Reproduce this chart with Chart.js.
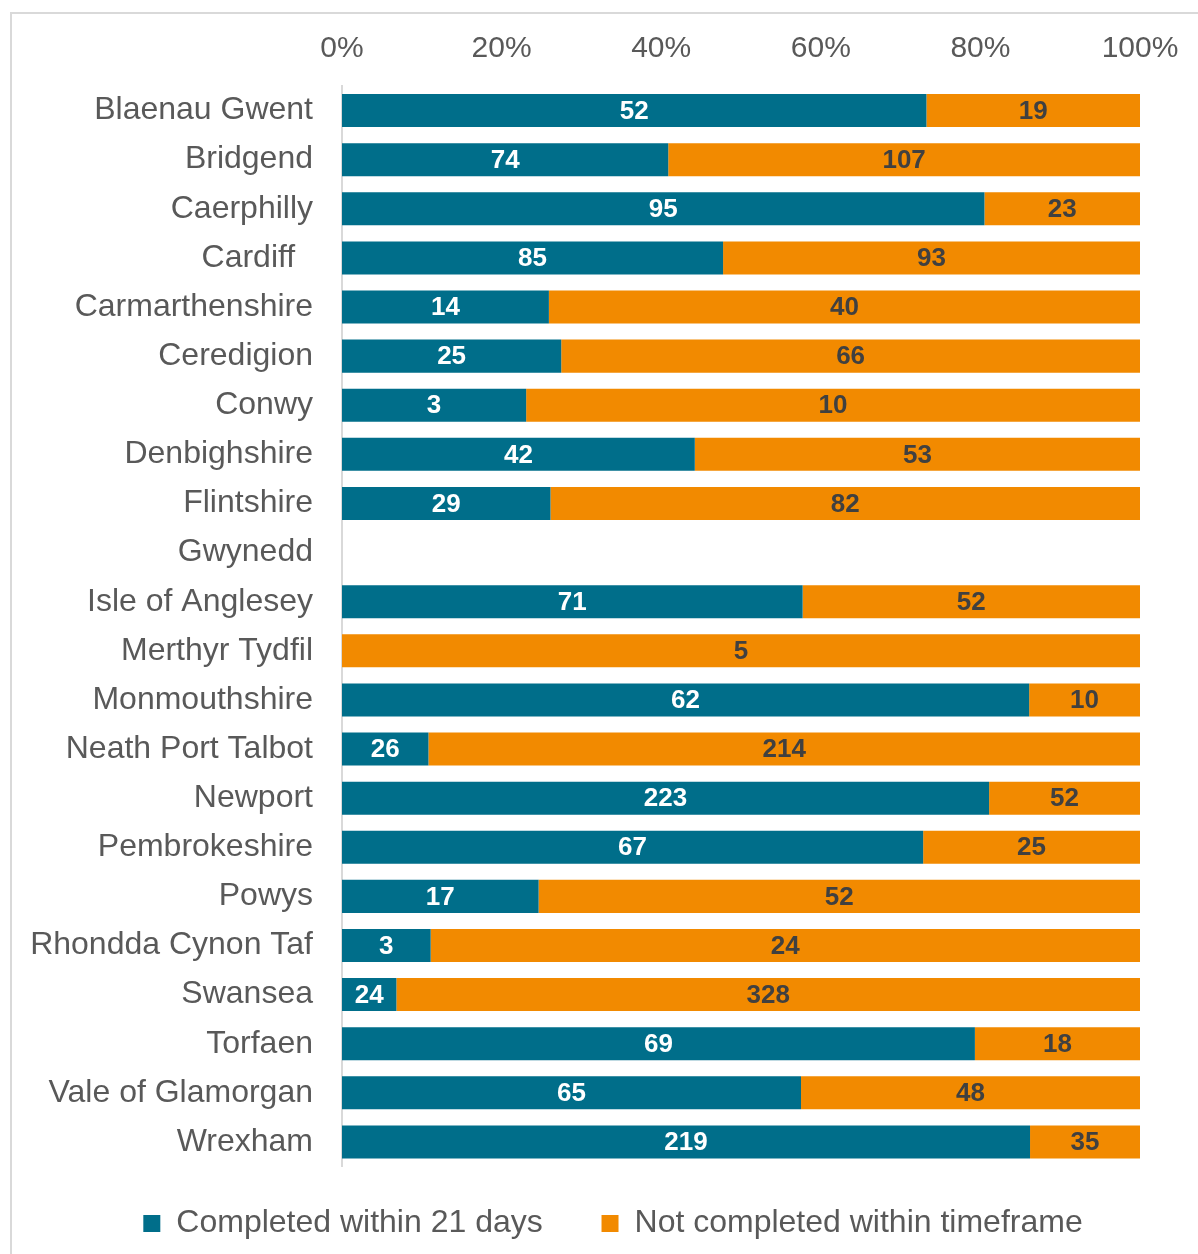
<!DOCTYPE html>
<html>
<head>
<meta charset="utf-8">
<script src="https://cdn.jsdelivr.net/npm/chart.js@4/dist/chart.umd.min.js"></script>
<style>
  html, body { margin: 0; padding: 0; background: #fff; }
  .frame {
    position: absolute; left: 10px; top: 12px;
    width: 1400px; height: 1400px;
    border: 2px solid #d9d9d9; box-sizing: border-box;
  }
  .wrap { position: absolute; left: 0; top: 0; width: 1198px; height: 1254px; }
</style>
</head>
<body>
<div class="frame"></div>
<div class="wrap"><canvas id="chart" width="1198" height="1254"></canvas></div>
<script>
// Local authorities
const authorities = [
  'Blaenau Gwent', 'Bridgend', 'Caerphilly', 'Cardiff  ', 'Carmarthenshire',
  'Ceredigion', 'Conwy', 'Denbighshire', 'Flintshire', 'Gwynedd',
  'Isle of Anglesey', 'Merthyr Tydfil', 'Monmouthshire', 'Neath Port Talbot',
  'Newport', 'Pembrokeshire', 'Powys', 'Rhondda Cynon Taf', 'Swansea',
  'Torfaen', 'Vale of Glamorgan', 'Wrexham'
];

// counts per authority (null = no data)
const completed = [52, 74, 95, 85, 14, 25, 3, 42, 29, null, 71, 0, 62, 26, 223, 67, 17, 3, 24, 69, 65, 219];
const notCompleted = [19, 107, 23, 93, 40, 66, 10, 53, 82, null, 52, 5, 10, 214, 52, 25, 52, 24, 328, 18, 48, 35];

const percentTicks = [0, 20, 40, 60, 80, 100];

const blue = '#006E8A';
const orange = '#F28A00';
const grey = '#595959';
const fontFamily = '"Liberation Sans", Arial, sans-serif';

function share(a, b, i) {
  if (a[i] == null || b[i] == null) return null;
  const total = a[i] + b[i];
  return total ? (a[i] / total) * 100 : 0;
}

const completedPct = completed.map((v, i) => share(completed, notCompleted, i));
const notCompletedPct = notCompleted.map((v, i) => share(notCompleted, completed, i));
const rawCounts = [completed, notCompleted];
const labelColours = ['#ffffff', '#404040'];

// writes the raw counts in the middle of each bar segment
const countLabels = {
  id: 'countLabels',
  afterDatasetsDraw(chart) {
    const ctx = chart.ctx;
    ctx.save();
    ctx.font = 'bold 26px ' + fontFamily;
    ctx.textAlign = 'center';
    ctx.textBaseline = 'middle';
    chart.data.datasets.forEach((ds, d) => {
      const meta = chart.getDatasetMeta(d);
      meta.data.forEach((bar, i) => {
        const n = rawCounts[d][i];
        if (!n) return;
        const { x, y, base } = bar.getProps(['x', 'y', 'base'], true);
        ctx.fillStyle = labelColours[d];
        ctx.fillText(String(n), (x + base) / 2, y + 1);
      });
    });
    ctx.restore();
  }
};

// legend band: fixed height under the plot, nudged right
const legendBox = {
  id: 'legendBox',
  beforeLayout(chart) {
    const lg = chart.legend;
    if (lg && !lg._fixed) {
      const fit = lg.fit;
      lg.fit = function () { fit.call(this); this.height = 87.5; };
      lg._fixed = true;
    }
  },
  afterLayout(chart) {
    chart.legend.left += 43;
    chart.legend.right += 43;
  }
};

new Chart(document.getElementById('chart'), {
  type: 'bar',
  data: {
    labels: authorities,
    datasets: [
      {
        label: 'Completed within 21 days  ',
        data: completedPct,
        backgroundColor: blue,
        borderWidth: 0,
        barPercentage: 1,
        categoryPercentage: 0.672
      },
      {
        label: 'Not completed within timeframe',
        data: notCompletedPct,
        backgroundColor: orange,
        borderWidth: 0,
        barPercentage: 1,
        categoryPercentage: 0.672
      }
    ]
  },
  options: {
    indexAxis: 'y',
    responsive: false,
    animation: false,
    layout: { padding: { left: 0, right: 58, top: 0, bottom: 0 } },
    plugins: {
      tooltip: { enabled: false },
      legend: {
        position: 'bottom',
        labels: {
          boxWidth: 17,
          boxHeight: 17,
          padding: 41,
          color: grey,
          font: { family: fontFamily, size: 32 }
        }
      }
    },
    scales: {
      x: {
        position: 'top',
        stacked: true,
        min: 0,
        max: 100,
        afterBuildTicks: scale => {
          scale.ticks = percentTicks.map(v => ({ value: v }));
        },
        afterFit: scale => { scale.height = 86; },
        ticks: {
          padding: 19,
          color: grey,
          font: { family: fontFamily, size: 30 },
          callback: v => v + '%'
        },
        grid: { display: false, drawTicks: false },
        border: { display: false }
      },
      y: {
        stacked: true,
        afterFit: scale => { scale.width = 342; },
        ticks: {
          padding: 29,
          color: grey,
          font: { family: fontFamily, size: 32 },
          autoSkip: false
        },
        grid: { display: false, drawTicks: false },
        border: { display: true, color: '#d9d9d9', width: 2 }
      }
    }
  },
  plugins: [countLabels, legendBox]
});
</script>
</body>
</html>
